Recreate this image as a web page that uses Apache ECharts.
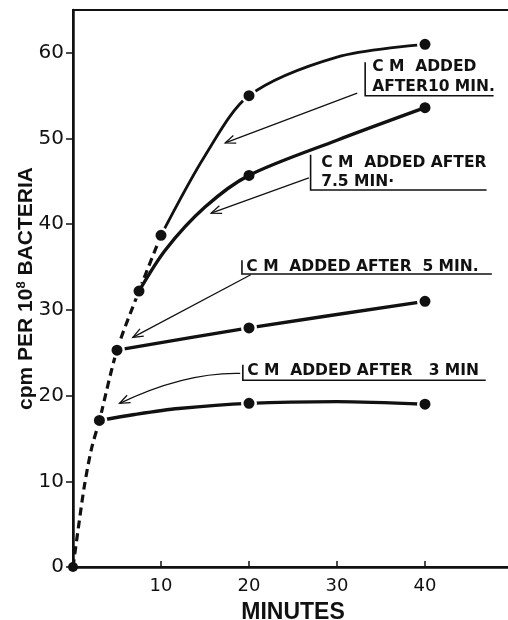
<!DOCTYPE html>
<html>
<head>
<meta charset="utf-8">
<script src="https://cdn.jsdelivr.net/npm/echarts@6/dist/echarts.min.js"></script>
<style>
  html, body { margin: 0; padding: 0; background: #fff; }
  #chart { width: 508px; height: 620px; }
</style>
</head>
<body>
<div id="chart"></div>
<script>
// Sampling times (minutes) and measured uptake (cpm per 10^8 bacteria)
const tBefore = [0, 3, 5, 7.5, 10];
const cpmBefore = [0, 17.1, 25.3, 32.2, 38.7];
const tLate = [20, 40];
const cpmAfter10 = [55.0, 61.0];
const cpmAfter75 = [45.7, 53.6];
const cpmAfter5 = [27.9, 31.0];
const cpmAfter3 = [19.1, 19.0];

// Hand-drawn curve paths through the measurements
const pathBeforeT = [0, 0.6, 1.3, 2.1, 3, 5, 7.5, 10];
const pathBeforeV = [0, 4.5, 9.5, 13.8, 17.1, 25.3, 32.2, 38.7];
const path10T = [10, 15, 20, 30, 40];
const path10V = [38.7, 48.0, 55.0, 59.5, 61.0];
const path75T = [7.5, 10.5, 15, 20, 30, 40];
const path75V = [32.2, 37.0, 42.0, 45.7, 49.8, 53.6];
const path5T = [5, 20, 40];
const path5V = [25.3, 27.9, 31.0];
const path3T = [3, 7, 12, 20, 30, 40];
const path3V = [17.1, 17.8, 18.5, 19.1, 19.3, 19.0];

// Axis ticks
const minuteTicks = [10, 20, 30, 40];
const cpmTicks = [0, 10, 20, 30, 40, 50, 60];

// Callout labels: text lines, anchor (minutes, cpm), bracket and arrow in data units
const callouts = [
  { lines: ['C M  ADDED', 'AFTER10 MIN.'], text: [34.0, 58.3], lineStep: 2.3,
    bracket: [33.2, 58.9, 55.0], underlineTo: 47.8,
    arrowFrom: [32.3, 55.3], arrowTo: [17.3, 49.5] },
  { lines: ['C M  ADDED AFTER', '7.5 MIN\u00b7'], text: [28.2, 47.1], lineStep: 2.2,
    bracket: [27.0, 48.1, 44.0], underlineTo: 47.0,
    arrowFrom: [26.8, 45.4], arrowTo: [15.7, 41.3] },
  { lines: ['C M  ADDED AFTER  5 MIN.'], text: [19.7, 35.0], lineStep: 0,
    bracket: [19.2, 35.8, 34.2], underlineTo: 47.6,
    arrowFrom: [20.2, 34.1], arrowTo: [6.8, 26.8] },
  { lines: ['C M  ADDED AFTER   3 MIN'], text: [19.8, 22.9], lineStep: 0,
    bracket: [19.3, 23.6, 21.8], underlineTo: 46.9,
    arrowFrom: [19.0, 22.6], arrowTo: [5.3, 19.1], curveVia: [12.7, 22.75] }
];

const INK = '#111';
const zip = (a, b) => a.map((v, i) => [v, b[i]]);

const chart = echarts.init(document.getElementById('chart'), null, { renderer: 'canvas' });

function curve(t, v, dashed, width, z) {
  return {
    type: 'line', data: zip(t, v), showSymbol: false, smooth: 0.3,
    lineStyle: { color: INK, width: width, type: dashed ? [8, 5] : 'solid', cap: 'butt' },
    silent: true, z: z || 2
  };
}
// Filled dots with a thin white halo so the drawn lines stop just short of them
function dots(t, v) {
  return {
    type: 'scatter', symbol: 'circle', symbolSize: 13.5,
    data: zip(t, v).map(p => (p[0] === 0 && p[1] === 0)
      ? { value: p, symbolSize: 10, itemStyle: { borderWidth: 0 } }
      : { value: p }),
    itemStyle: { color: INK, opacity: 1, borderColor: '#fff', borderWidth: 2.5 }, z: 3, silent: true
  };
}

chart.setOption({
  animation: false,
  backgroundColor: '#fff',
  grid: {
    left: 73, right: -5, top: 10, bottom: 53, outerBoundsMode: 'none',
    show: true, borderColor: INK, borderWidth: 2, backgroundColor: 'transparent'
  },
  xAxis: {
    type: 'value', min: 0, max: 50,
    name: 'MINUTES', nameLocation: 'middle', nameGap: 34,
    nameTextStyle: { fontFamily: 'Liberation Sans', fontWeight: 'bold', fontSize: 23, color: INK },
    axisLine: { lineStyle: { color: INK, width: 2.5 } },
    axisTick: { show: true, inside: true, length: 6, lineStyle: { color: INK, width: 1.5 }, customValues: minuteTicks },
    axisLabel: { customValues: minuteTicks, margin: 10, fontFamily: 'DejaVu Sans', fontSize: 18, color: INK },
    splitLine: { show: false }
  },
  yAxis: {
    type: 'value', min: 0, max: 65,
    name: 'cpm PER 10{sup|8} BACTERIA', nameLocation: 'middle', nameGap: 35, nameRotate: 90,
    nameMoveOverlap: false,
    nameTextStyle: {
      fontFamily: 'Liberation Sans', fontWeight: 'bold', fontSize: 21, color: INK,
      rich: { sup: { fontFamily: 'Liberation Sans', fontWeight: 'bold', fontSize: 13, color: INK, verticalAlign: 'top', padding: [0, 0, 10, 0] } }
    },
    axisLine: { lineStyle: { color: INK, width: 2.5 } },
    axisTick: { show: true, length: 7, lineStyle: { color: INK, width: 1.5 }, customValues: cpmTicks },
    axisLabel: { customValues: cpmTicks, margin: 9, fontFamily: 'DejaVu Sans', fontSize: 20, color: INK },
    splitLine: { show: false }
  },
  series: [
    curve(pathBeforeT, pathBeforeV, true, 3.2),
    curve(path10T, path10V, false, 2.8),
    curve(path75T, path75V, false, 3.4, 4),
    curve(path5T, path5V, false, 3.4),
    curve(path3T, path3V, false, 3.4),
    dots(tBefore, cpmBefore),
    dots(tLate, cpmAfter10),
    dots(tLate, cpmAfter75),
    dots(tLate, cpmAfter5),
    dots(tLate, cpmAfter3)
  ]
});

// Callout brackets, text and arrows placed through the grid's coordinate system
const px = p => chart.convertToPixel({ gridIndex: 0 }, p);
const thin = { stroke: INK, lineWidth: 1.3, fill: null };
function head(tip, from) {
  const a = Math.atan2(from[1] - tip[1], from[0] - tip[0]);
  const len = 11, sp = 0.38;
  return [
    [tip[0] + len * Math.cos(a + sp), tip[1] + len * Math.sin(a + sp)],
    tip,
    [tip[0] + len * Math.cos(a - sp), tip[1] + len * Math.sin(a - sp)]
  ];
}
const elements = [];
callouts.forEach(c => {
  const top = px([c.bracket[0], c.bracket[1]]);
  const bot = px([c.bracket[0], c.bracket[2]]);
  const right = px([c.underlineTo, c.bracket[2]]);
  elements.push({ type: 'polyline', shape: { points: [top, bot, right] }, style: Object.assign({}, thin, { lineWidth: 1.6 }), silent: true });
  c.lines.forEach((s, i) => {
    const p = px([c.text[0], c.text[1] - i * c.lineStep]);
    elements.push({ type: 'text', x: p[0], y: p[1], silent: true,
      style: { text: s, fill: INK, font: 'bold 15.5px "DejaVu Sans"', verticalAlign: 'middle', align: 'left' } });
  });
  const a = px(c.arrowFrom), b = px(c.arrowTo);
  if (c.curveVia) {
    const cp = px(c.curveVia);
    elements.push({ type: 'bezierCurve', shape: { x1: a[0], y1: a[1], x2: b[0], y2: b[1], cpx1: cp[0], cpy1: cp[1] }, style: thin, silent: true });
    elements.push({ type: 'polyline', shape: { points: head(b, cp) }, style: thin, silent: true });
  } else {
    elements.push({ type: 'line', shape: { x1: a[0], y1: a[1], x2: b[0], y2: b[1] }, style: thin, silent: true });
    elements.push({ type: 'polyline', shape: { points: head(b, a) }, style: thin, silent: true });
  }
});
chart.setOption({ graphic: { elements: elements } });
</script>
</body>
</html>
